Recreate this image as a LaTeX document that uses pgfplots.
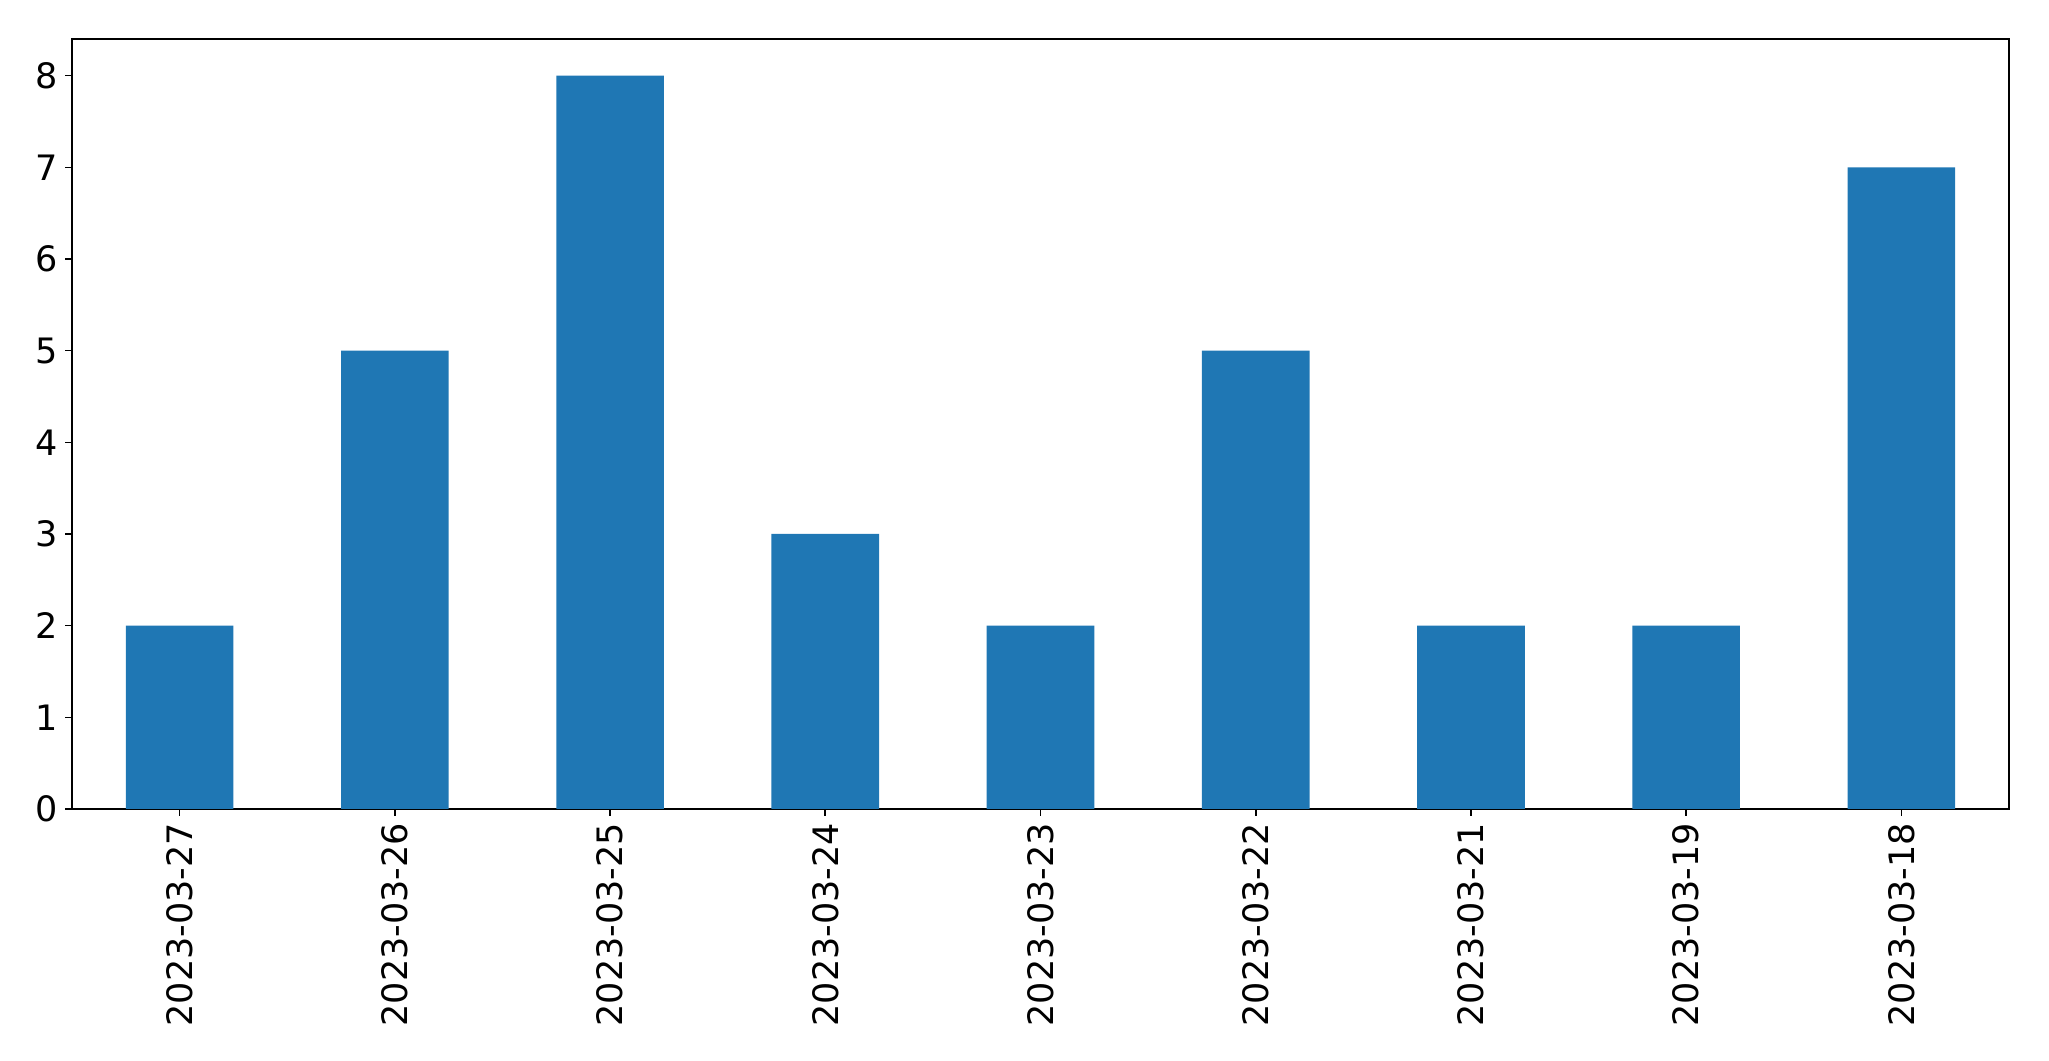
\documentclass[border=0pt]{standalone}
\usepackage{pgfplots}
\pgfplotsset{compat=1.18}
\usepackage{fontspec}
\setmainfont{DejaVu Sans}
\definecolor{mplblue}{HTML}{1F77B4}
\begin{document}
\begin{tikzpicture}
\begin{axis}[
    name=main,
    scale only axis,
    width=968.5pt, height=385pt,
    xmin=-0.5, xmax=8.5,
    ymin=0, ymax=8.4,
    xtick={0,...,8},
    xticklabels={2023-03-27,2023-03-26,2023-03-25,2023-03-24,2023-03-23,2023-03-22,2023-03-21,2023-03-19,2023-03-18},
    ytick={0,...,8},
    xticklabel style={rotate=90, anchor=east},
    tick label style={font=\fontsize{17.5}{21}\selectfont},
    /pgf/number format/assume math mode=true,
    tick align=outside,
    xtick pos=lower, ytick pos=left,
    major tick length=3.5pt,
    axis line style={line width=0.8pt},
    every tick/.style={black, line width=0.8pt},
    ybar, bar width=0.5,
]
\addplot[fill=mplblue, draw=none] coordinates {
(0,2) (1,5) (2,8) (3,3) (4,2) (5,5) (6,2) (7,2) (8,7)
};
\end{axis}
\pgfresetboundingbox
\path (main.south west) ++(-36pt,-126pt) coordinate (bl);
\path (main.north east) ++(20pt,19.5pt) coordinate (tr);
\path[use as bounding box] (bl) rectangle (tr);
\end{tikzpicture}
\end{document}
